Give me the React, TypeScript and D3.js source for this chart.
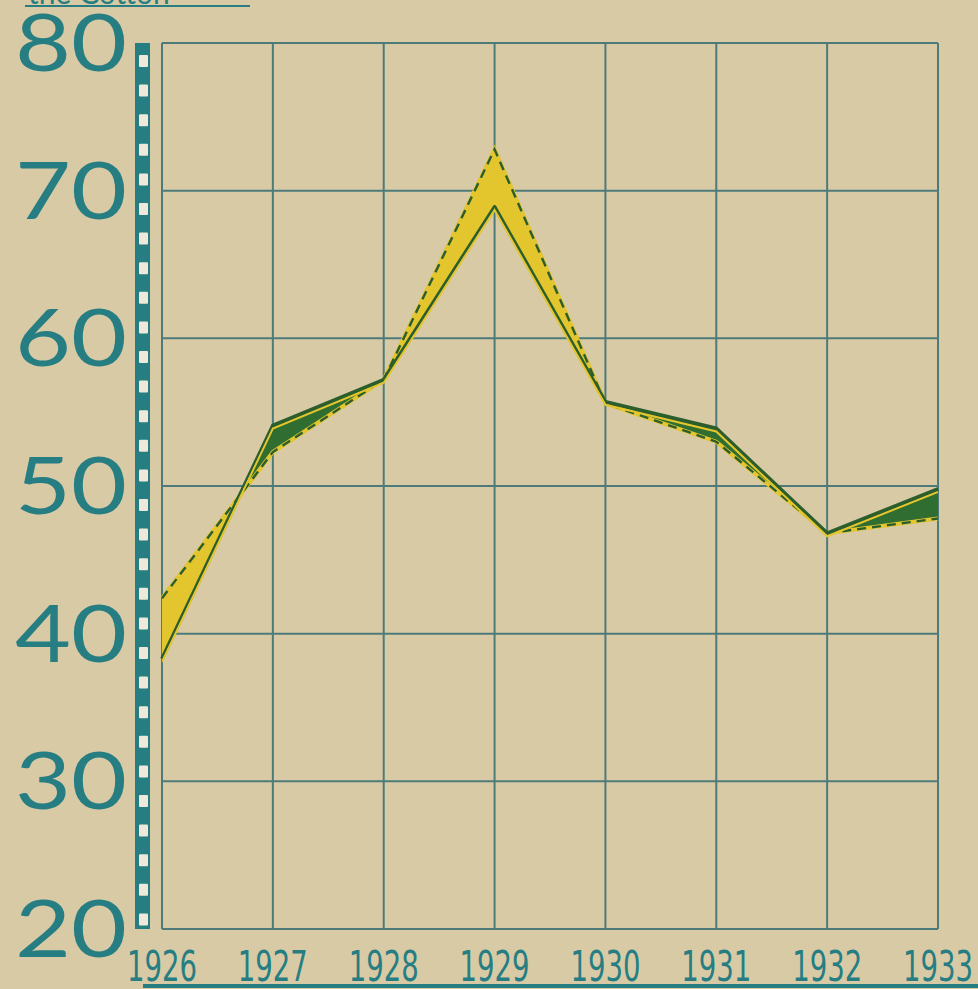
import React from "react";
import * as d3 from "d3";

const years = [1926, 1927, 1928, 1929, 1930, 1931, 1932, 1933];
const solidValues = [38.3, 54.1, 57.2, 68.9, 55.7, 53.9, 46.8, 49.8];
const dashedValues = [42.4, 52.3, 57.2, 72.8, 55.6, 53.0, 46.8, 47.8];
const yTicks = [20, 30, 40, 50, 60, 70, 80];
const titleText = "the Cotton";

const W = 978;
const H = 989;
const BG = "#d9caa6";
const TEAL = "#267e83";
const GRID = "#4d7b79";
const DARK = "#2b5e2c";
const GREEN_FILL = "#2f6d30";
const YELLOW = "#e3c52e";

export default function App() {
  const x = d3.scaleLinear().domain([1926, 1933]).range([162, 938]);
  const y = d3.scaleLinear().domain([20, 80]).range([929, 43]);

  const pts = years.map((yr, i) => ({ yr, s: solidValues[i], d: dashedValues[i] }));

  const lineS = d3.line<any>().x((p) => x(p.yr)).y((p) => y(p.s));
  const lineD = d3.line<any>().x((p) => x(p.yr)).y((p) => y(p.d));
  const between = d3
    .area<any>()
    .x((p) => x(p.yr))
    .y0((p) => y(p.s))
    .y1((p) => y(p.d));
  const aboveSolid = d3
    .area<any>()
    .x((p) => x(p.yr))
    .y0(() => 0)
    .y1((p) => y(p.s));
  const belowSolid = d3
    .area<any>()
    .x((p) => x(p.yr))
    .y0((p) => y(p.s))
    .y1(() => H);
  const lineSOffset = d3.line<any>().x((p) => x(p.yr)).y((p) => y(p.s) + 3);

  const barTop = 43;
  const barBottom = 929;
  const squares = d3.range(barTop + 12, barBottom - 8, 148 / 5);

  return (
    <div style={{ position: "fixed", left: 0, top: 0, width: W, height: H }}>
      <svg width={W} height={H} style={{ display: "block" }}>
        <defs>
          <clipPath id="clipAbove">
            <path d={aboveSolid(pts) || ""} />
          </clipPath>
          <clipPath id="clipBelow">
            <path d={belowSolid(pts) || ""} />
          </clipPath>
        </defs>
        <rect x={0} y={0} width={W} height={H} fill={BG} />

        {/* cut-off title */}
        <text x={28} y={4} fontFamily="Lato, sans-serif" fontSize={30} fill={TEAL}>
          {titleText}
        </text>
        <line x1={25} x2={250} y1={6} y2={6} stroke={TEAL} strokeWidth={2} />

        {/* grid */}
        {years.map((yr) => (
          <line key={"v" + yr} x1={x(yr)} x2={x(yr)} y1={y(80)} y2={y(20)} stroke={GRID} strokeWidth={2} />
        ))}
        {yTicks.map((t) => (
          <line key={"h" + t} x1={x(1926)} x2={x(1933)} y1={y(t)} y2={y(t)} stroke={GRID} strokeWidth={2} />
        ))}

        {/* fills */}
        <path d={between(pts) || ""} fill={YELLOW} clipPath="url(#clipAbove)" />
        <path d={between(pts) || ""} fill={GREEN_FILL} clipPath="url(#clipBelow)" />

        {/* dashed line */}
        <path d={lineD(pts) || ""} fill="none" stroke={YELLOW} strokeWidth={4} />
        <path d={lineD(pts) || ""} fill="none" stroke={DARK} strokeWidth={2.4} strokeDasharray="9 6" />

        {/* solid line */}
        <path d={lineS(pts) || ""} fill="none" stroke={DARK} strokeWidth={3.8} strokeLinejoin="round" />
        <path d={lineSOffset(pts) || ""} fill="none" stroke={YELLOW} strokeWidth={2} clipPath="url(#clipBelow)" />

        {/* left bar */}
        <rect x={135} y={barTop} width={15} height={barBottom - barTop} fill={TEAL} />
        {squares.map((sy, i) => (
          <rect key={"sq" + i} x={139} y={sy} width={9} height={12} fill="#eee9da" rx={1} />
        ))}

        {/* y labels */}
        {yTicks.map((t) => (
          <text
            key={"yl" + t}
            x={127}
            y={y(t) + 28}
            textAnchor="end"
            fontFamily="Lato, sans-serif"
            fontSize={80}
            fill={TEAL}
            textLength={112}
            lengthAdjust="spacingAndGlyphs"
          >
            {t}
          </text>
        ))}

        {/* x labels */}
        {years.map((yr) => (
          <text
            key={"xl" + yr}
            x={x(yr)}
            y={981}
            textAnchor="middle"
            fontFamily="'Liberation Sans Narrow', 'DejaVu Sans Condensed', sans-serif"
            fontSize={42}
            fill={TEAL}
            textLength={70}
            lengthAdjust="spacingAndGlyphs"
          >
            {yr}
          </text>
        ))}
        <line x1={143} x2={978} y1={986} y2={986} stroke={TEAL} strokeWidth={4} />
      </svg>
    </div>
  );
}
